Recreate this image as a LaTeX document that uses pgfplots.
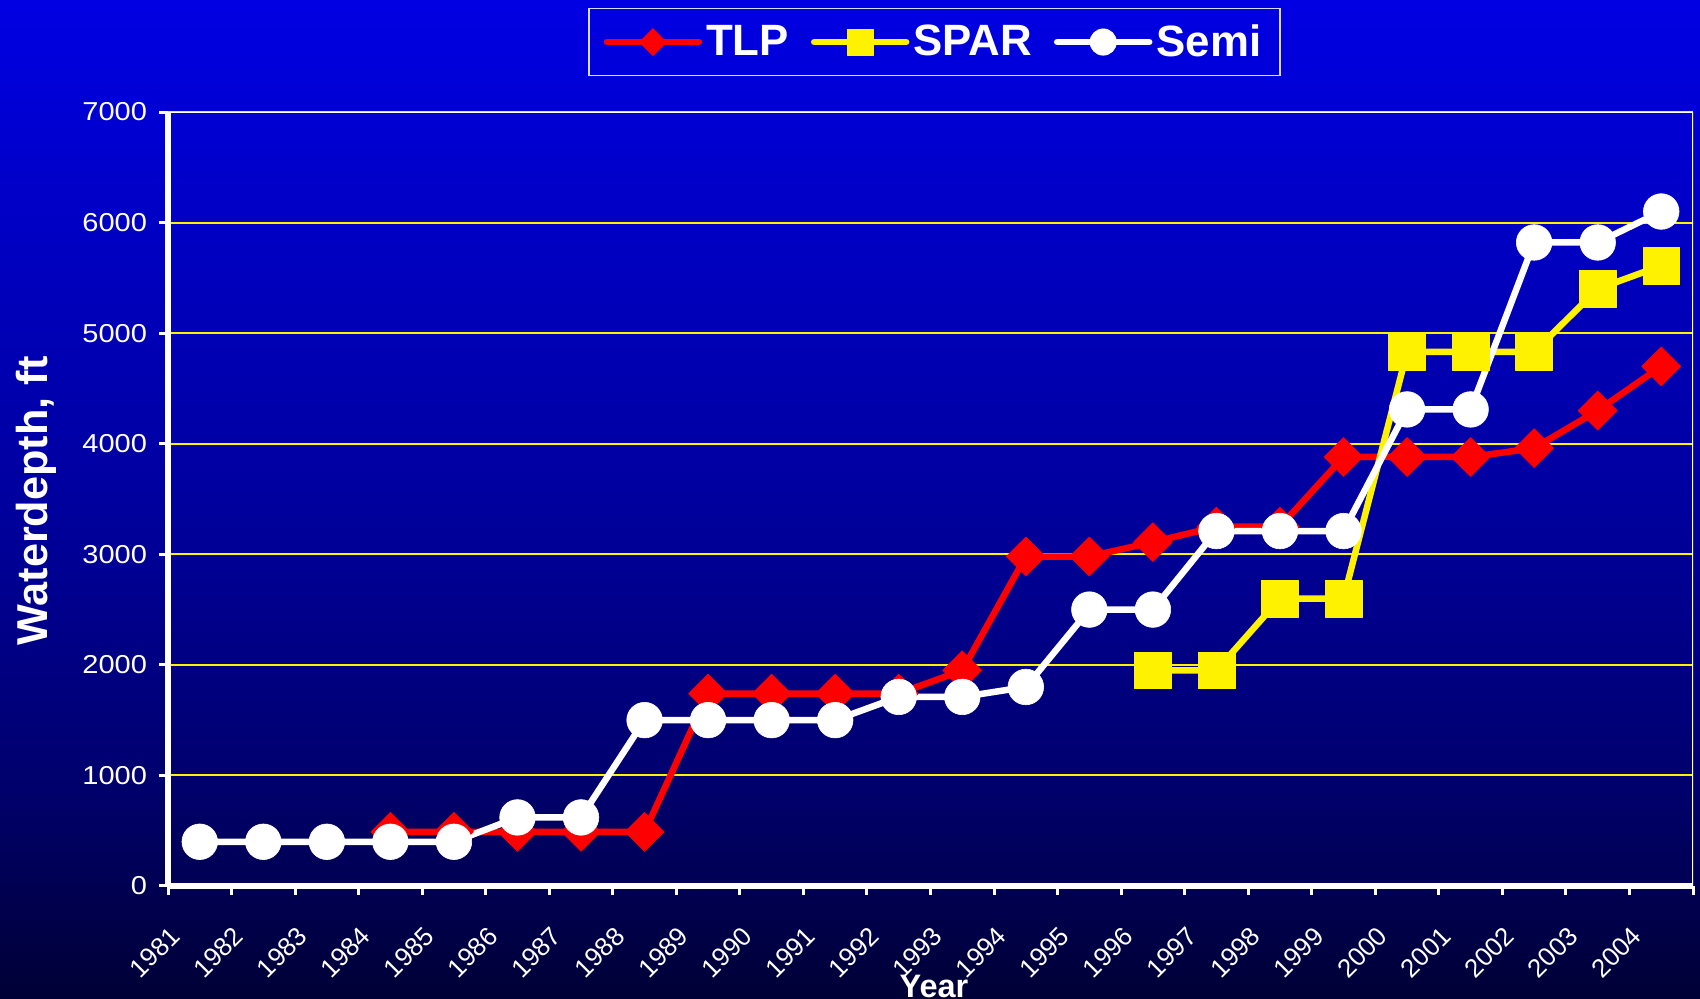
\documentclass[border=0pt]{standalone}
\usepackage{fontspec}
\setmainfont{Liberation Sans}
\newfontfamily\tickfont[FakeStretch=1.12]{Liberation Sans}
\usepackage{pgfplots}
\pgfplotsset{compat=1.18}
\pgfdeclareverticalshading{bgshade}{100bp}{rgb(0bp)=(0,0,0.21); rgb(25bp)=(0,0,0.21); rgb(35.96bp)=(0,0,0.43); rgb(50.48bp)=(0,0,0.627); rgb(75bp)=(0,0,0.89); rgb(100bp)=(0,0,0.89)}
\begin{document}
\begin{tikzpicture}
\path[use as bounding box] (0,0) rectangle (850bp,499.5bp);
\shade[shading=bgshade] (0,0) rectangle (850bp,499.5bp);
\begin{axis}[
  at={(84bp,56.5bp)}, anchor=south west,
  width=762.5bp, height=387bp, scale only axis,
  xmin=0, xmax=24, ymin=0, ymax=7000,
  axis lines=left,
  axis line style={-, white, line width=2.5bp},
  tick align=outside, major tick length=4.5bp,
  tick style={white, line width=1.5bp},
  xtick={0,1,...,24}, xticklabels={},
  extra x ticks={0.5,1.5,...,23.5},
  extra x tick labels={1981,1982,1983,1984,1985,1986,1987,1988,1989,1990,1991,1992,1993,1994,1995,1996,1997,1998,1999,2000,2001,2002,2003,2004},
  extra x tick style={major tick length=0pt, tick label style={xshift=-15.5bp, yshift=-19.5bp, rotate=45, anchor=north east, inner sep=0pt}},
  ytick={0,1000,...,7000},
  ymajorgrids, grid style={yellow, line width=1bp},
  scaled y ticks=false,
  tick label style={white, /pgf/number format/assume math mode=true, /pgf/number format/1000 sep={}},
  x tick label style={font=\fontsize{13}{13}\selectfont},
  y tick label style={xshift=-2.5bp, font=\tickfont\fontsize{13}{13}\selectfont},
  xlabel={Year},
  every axis x label/.style={at={(axis description cs:0.5023,-0.144)}, anchor=base, font=\bfseries\fontsize{16.3}{17}\selectfont, text=white},
  ylabel={Waterdepth, ft},
  every axis y label/.style={at={(axis description cs:-0.0787,0.4974)}, rotate=90, anchor=base, font=\bfseries\fontsize{21.7}{24}\selectfont, text=white},
  legend style={at={(axis description cs:0.5026,1.0904)}, anchor=center, draw=white!85!blue, line width=0.8bp, fill=none, text=white, font=\bfseries\fontsize{22}{24}\selectfont, /tikz/every even column/.append style={column sep=9bp}, inner xsep=7.5bp, inner ysep=6bp},
  legend columns=3,
  legend image code/.code={\draw[mark repeat=2,mark phase=2,line cap=round,#1] plot coordinates {(0bp,0bp) (23bp,0bp) (46bp,0bp)};},
]
\draw[white, line width=1.3bp] (rel axis cs:0,1) -- (rel axis cs:1,1) -- (rel axis cs:1,0);
\addplot[red, line width=3.25bp, line join=round, mark=square*, mark size=6.9bp, mark options={rotate=45, solid, fill=red, draw=red, line width=0.3bp}, legend image post style={mark size=4.8bp}] coordinates {
(3.5,490) (4.5,490) (5.5,490) (6.5,490) (7.5,490) (8.5,1740) (9.5,1740) (10.5,1740) (11.5,1740) (12.5,1950) (13.5,2980) (14.5,2980) (15.5,3110) (16.5,3250) (17.5,3250) (18.5,3880) (19.5,3880) (20.5,3880) (21.5,3960) (22.5,4300) (23.5,4700)};
\addlegendentry{TLP}
\addplot[yellow, line width=3.25bp, line join=round, mark=square*, mark size=9.2bp, mark options={solid, fill=yellow, draw=yellow, line width=0.3bp}, legend image post style={mark size=6.6bp}] coordinates {
(15.5,1950) (16.5,1950) (17.5,2600) (18.5,2600) (19.5,4830) (20.5,4830) (21.5,4830) (22.5,5400) (23.5,5610)};
\addlegendentry{SPAR}
\addplot[white, line width=3.25bp, line join=round, mark=*, mark size=8.9bp, mark options={solid, fill=white, draw=white, line width=0.3bp}, legend image post style={mark size=6.6bp}] coordinates {
(0.5,400) (1.5,400) (2.5,400) (3.5,400) (4.5,400) (5.5,620) (6.5,620) (7.5,1500) (8.5,1500) (9.5,1500) (10.5,1500) (11.5,1710) (12.5,1710) (13.5,1800) (14.5,2500) (15.5,2500) (16.5,3210) (17.5,3210) (18.5,3210) (19.5,4310) (20.5,4310) (21.5,5820) (22.5,5820) (23.5,6100)};
\addlegendentry{Semi}
\end{axis}
\end{tikzpicture}
\end{document}
